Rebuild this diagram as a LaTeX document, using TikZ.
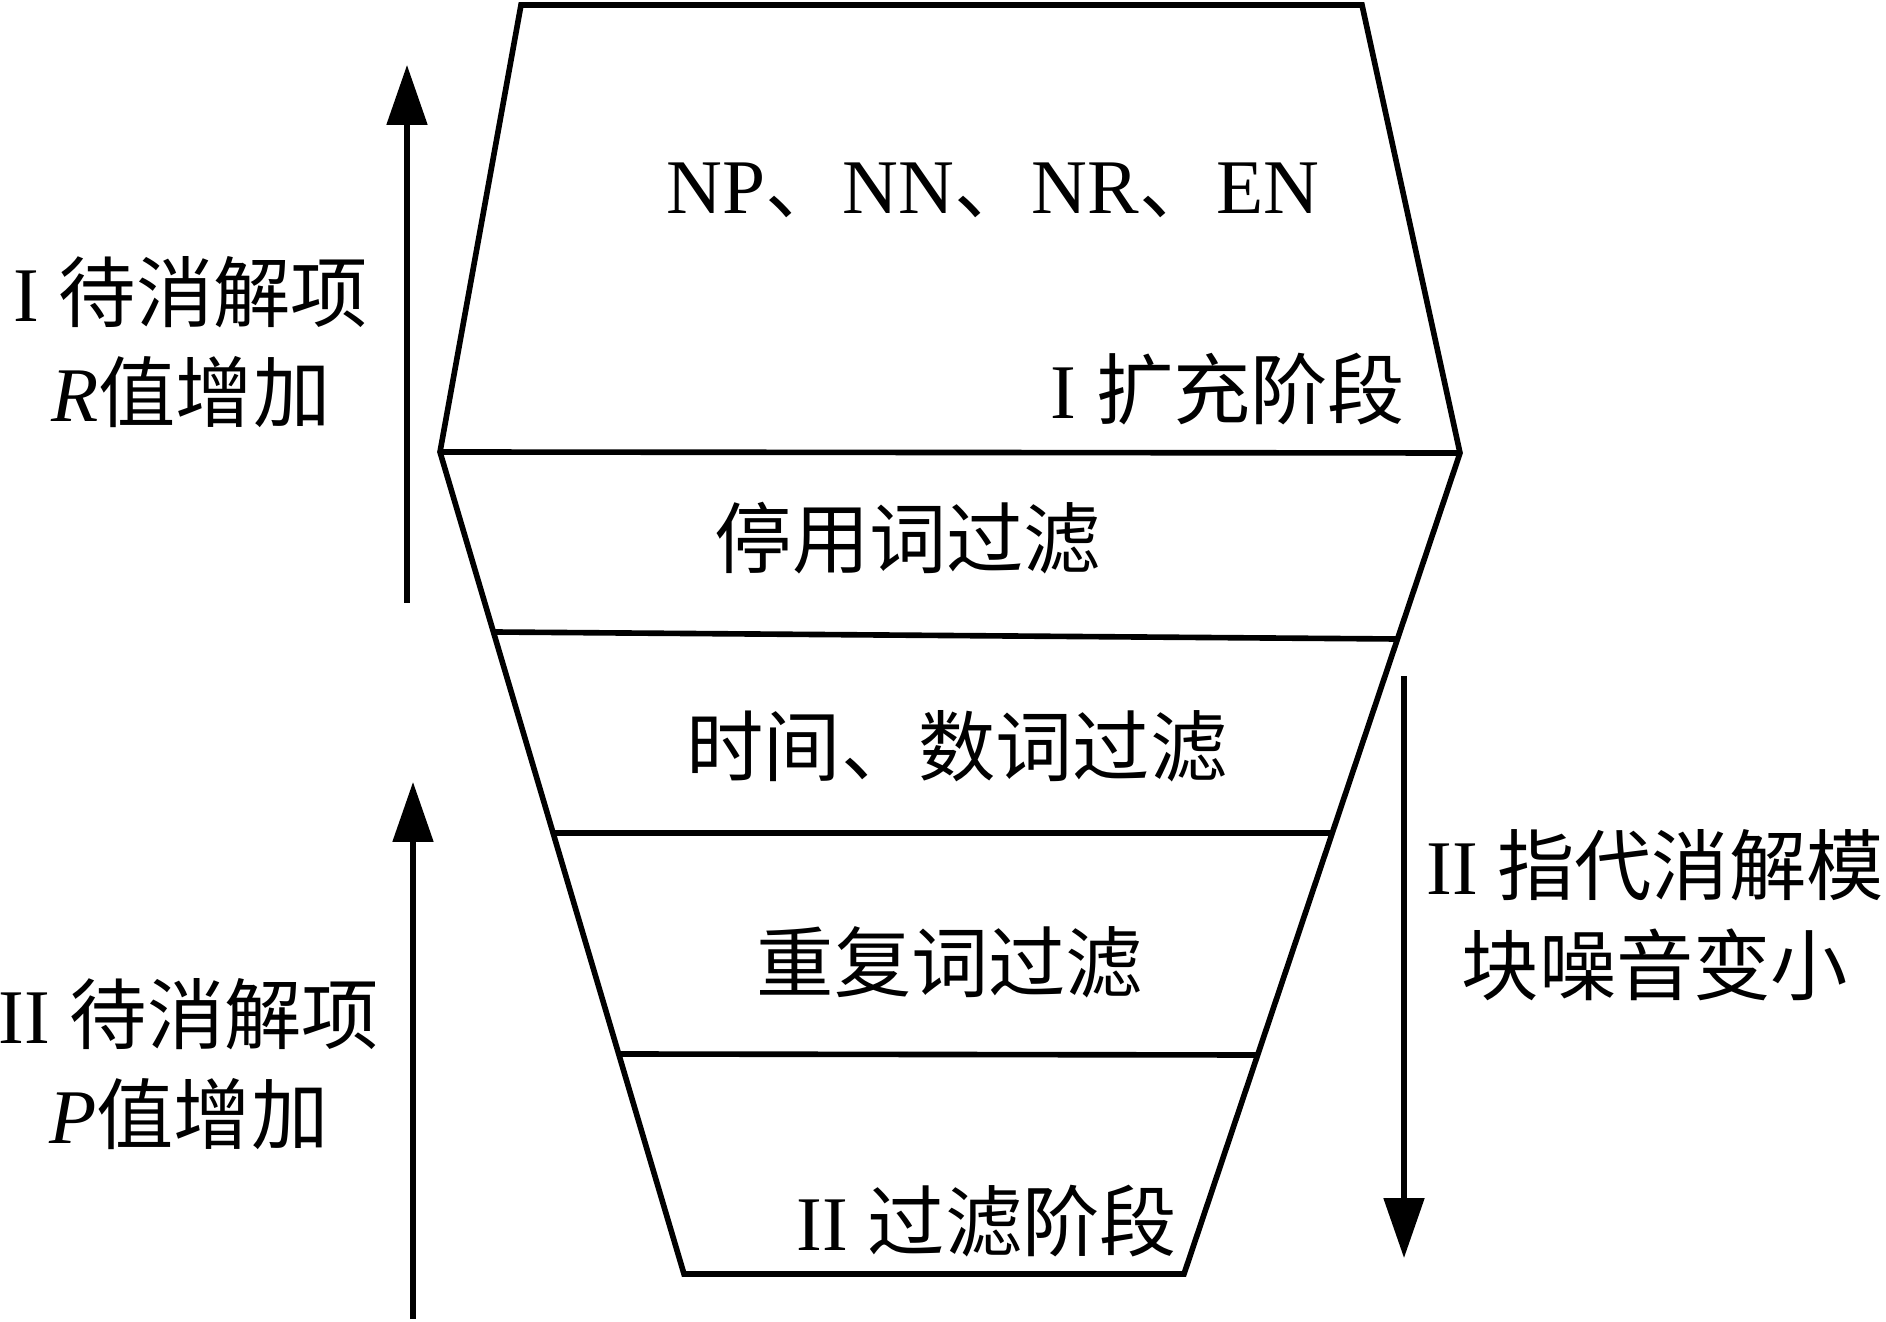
\documentclass[tikz,border=0pt]{standalone}
\usepackage{fontspec}
\setmainfont{Liberation Serif}
\newfontfamily\cjk{Noto Sans CJK SC}
\usetikzlibrary{arrows.meta,positioning}
\tikzset{
      text node/.style = {font=\fontsize{22}{28.5}\selectfont, align=center, inner sep=0pt},
      layer/.style     = {black, line width=1.6pt, line join=miter},
      trend/.style     = {black, line width=1.5pt, -{Triangle[width=4mm,length=6mm]}},
    }

\begin{document}
\begin{tikzpicture}[x=0.1mm, y=-0.1mm]
        \useasboundingbox (0,0) rectangle (1886,1322);
        % funnel outline
        \coordinate (tl) at (521,5);
        \coordinate (tr) at (1362,5);
        \coordinate (ml) at (440,452);
        \coordinate (mr) at (1460,453);
        \coordinate (bl) at (684,1274);
        \coordinate (br) at (1184,1274);
        \draw[layer] (tl) -- (tr) -- (mr) -- (br) -- (bl) -- (ml) -- cycle;
        % layers
        \coordinate (l1) at (494,632);  \coordinate (r1) at (1396,639);
        \coordinate (l2) at (553,833);  \coordinate (r2) at (1330,833);
        \coordinate (l3) at (619,1054); \coordinate (r3) at (1256,1055);
        \draw[layer] (ml) -- (mr);
        \draw[layer] (l1) -- (r1);
        \draw[layer] (l2) -- (r2);
        \draw[layer] (l3) -- (r3);
        % texts inside
        \node [text node] (tags)   at (993,190)  {NP{\cjk 、}NN{\cjk 、}NR{\cjk 、}EN};
        \node [text node, anchor=east] (expand) at (1406,389) {I {\cjk 扩充阶段}};
        \node [text node] (stop)   at (908,538)  {\cjk 停用词过滤};
        \node [text node] (num)    at (957,746)  {\cjk 时间、数词过滤};
        \node [text node] (dup)    at (950,962)  {\cjk 重复词过滤};
        \node [text node] (filter) at (987,1221) {II {\cjk 过滤阶段}};
        % side texts
        \node [text node] (rup)    at (191,342)  {I {\cjk 待消解项}\\\textit{R}{\cjk 值增加}};
        \node [text node] (pup)    at (189,1064) {II {\cjk 待消解项}\\\textit{P}{\cjk 值增加}};
        \node [text node] (noise)  at (1655,915) {II {\cjk 指代消解模}\\{\cjk 块噪音变小}};
        % arrows
        \coordinate (a1s) at (407,603);  \coordinate (a1e) at (407,65);
        \coordinate (a2s) at (413,1319); \coordinate (a2e) at (413,782);
        \coordinate (a3s) at (1404,676); \coordinate (a3e) at (1404,1258);
        \path[trend]
        (a1s) edge (a1e)
        (a2s) edge (a2e)
        (a3s) edge (a3e);
    \end{tikzpicture}
\end{document}
